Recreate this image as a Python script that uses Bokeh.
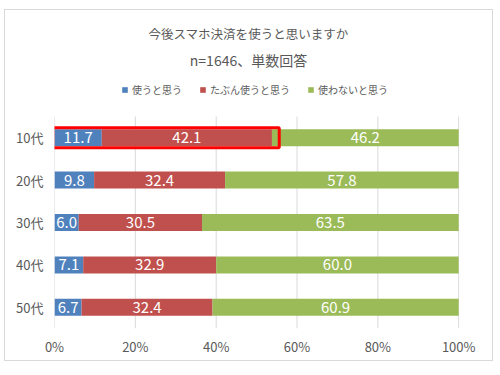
from bokeh.plotting import figure
from bokeh.models import (ColumnDataSource, Range1d, FixedTicker, Label,
                          Legend, LegendItem, CustomJSTickFormatter)
from bokeh.core.properties import value
from bokeh.embed import file_html
from bokeh.resources import INLINE

# ---- data ----
ages = ["10代", "20代", "30代", "40代", "50代"]
use = [11.7, 9.8, 6.0, 7.1, 6.7]
maybe = [42.1, 32.4, 30.5, 32.9, 32.4]
not_use = [46.2, 57.8, 63.5, 60.0, 60.9]
series_names = ["使うと思う", "たぶん使うと思う", "使わないと思う"]
title1 = "今後スマホ決済を使うと思いますか"
title2 = "n=1646、単数回答"
x_ticks = [0, 20, 40, 60, 80, 100]
highlight_age = "10代"

colors = ["#4F81BD", "#C0504D", "#9BBB59"]
FONT = "Noto Sans CJK JP"
GRAY = "#595959"

n = len(ages)
ypos = [n - 1 - i for i in range(n)]  # first category on top
src = ColumnDataSource(dict(y=ypos, s0=use, s1=maybe, s2=not_use))

p = figure(width=487, height=350, output_backend="svg", toolbar_location=None,
           x_range=Range1d(0, 100.2), y_range=Range1d(-0.5, n - 1 + 3.0),
           min_border_left=49, min_border_right=33, min_border_top=0, min_border_bottom=32,
           margin=(10, 0, 0, 5),
           styles={"outline": "1px solid #D9D9D9"})
p.outline_line_color = None
p.background_fill_color = "white"
p.border_fill_color = "white"
p.xgrid.grid_line_color = None
p.ygrid.grid_line_color = None

# vertical grid lines limited to the category area
p.segment(x0=x_ticks, x1=x_ticks, y0=[-0.5] * len(x_ticks), y1=[n - 0.5] * len(x_ticks),
          line_color="#D9D9D9", line_width=1)

renderers = p.hbar_stack(["s0", "s1", "s2"], y="y", height=0.4, color=colors,
                         source=src, line_color=None)

# data labels
cols = [use, maybe, not_use]
lx, ly, lt = [], [], []
for i in range(n):
    left = 0.0
    for c in cols:
        v = c[i]
        lx.append(left + v / 2)
        ly.append(ypos[i])
        lt.append(f"{v:.1f}")
        left += v
p.text(x=lx, y=ly, text=lt, text_color="white", text_align="center", text_baseline="middle",
       text_font=value(FONT), text_font_size="15px")

# highlight box around first row
hi = ages.index(highlight_age)
p.quad(left=[-0.4], right=[use[hi] + maybe[hi] + 1.8],
       top=[ypos[hi] + 0.236], bottom=[ypos[hi] - 0.236],
       fill_alpha=0, line_color="#FF0000", line_width=3)

# axes
for ax in (p.xaxis, p.yaxis):
    ax.axis_line_color = None
    ax.major_tick_line_color = None
    ax.minor_tick_line_color = None
    ax.major_tick_out = 0
    ax.major_tick_in = 0
    ax.minor_tick_out = 0
    ax.major_label_text_font = FONT
    ax.major_label_text_color = GRAY

p.xaxis.ticker = FixedTicker(ticks=x_ticks)
p.xaxis.formatter = CustomJSTickFormatter(code="return tick + '%';")
p.xaxis.major_label_text_font_size = "13px"
p.xaxis.major_label_standoff = 8

p.yaxis.ticker = FixedTicker(ticks=ypos)
p.yaxis.major_label_overrides = {yv: a for yv, a in zip(ypos, ages)}
p.yaxis.major_label_text_font_size = "13px"
p.yaxis.major_label_standoff = 11

# legend
items = [LegendItem(label=nm, renderers=[r]) for nm, r in zip(series_names, renderers)]
legend = Legend(items=items, orientation="horizontal", location=(67, 231),
                label_text_font=FONT, label_text_font_size="10px", label_text_color=GRAY,
                glyph_width=7, glyph_height=7, spacing=17, label_standoff=4,
                padding=0, margin=0, border_line_color=None, background_fill_alpha=0)
p.add_layout(legend, "center")

# titles
for t, yy, fs in [(title1, 295, "12.5px"), (title2, 269, "14px")]:
    p.add_layout(Label(x=194, y=yy, x_units="screen", y_units="screen", text=t,
                       text_align="center", text_baseline="middle", text_font=FONT,
                       text_font_size=fs, text_color=GRAY))

open("out.html", "w").write(file_html(p, INLINE))
